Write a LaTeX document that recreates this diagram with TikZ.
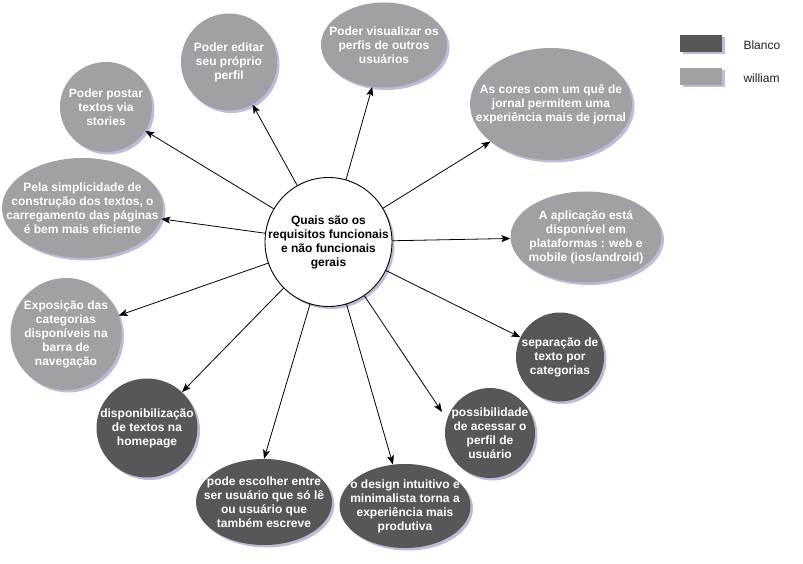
\documentclass[tikz,border=0pt]{standalone}
\usepackage{fontspec}
\setmainfont{Liberation Sans}
\usetikzlibrary{shapes.geometric,shadows,arrows.meta}

\definecolor{lightnode}{RGB}{161,161,165}
\definecolor{darknode}{RGB}{87,87,89}
\definecolor{shadowc}{RGB}{160,160,200}
\definecolor{labelc}{RGB}{30,30,30}

\tikzset{
  soft shadow/.style={drop shadow={shadow xshift=2.5pt,shadow yshift=-2.5pt,fill=shadowc,opacity=0.7}},
  % negative inner sep: the outline size comes from minimum width/height only
  bubble/.style={ellipse,inner sep=-150pt,align=center,text=white,soft shadow,
    font=\bfseries\fontsize{12}{14}\selectfont},
  lightbubble/.style={bubble,fill=lightnode},
  darkbubble/.style={bubble,fill=darknode},
  hub/.style={ellipse,draw=black,line width=0.9pt,fill=white,minimum width=127pt,minimum height=129pt,
    inner sep=-150pt,align=center,soft shadow,font=\bfseries\fontsize{12}{14}\selectfont},
  keybox/.style={rectangle,minimum width=42pt,minimum height=17pt,inner sep=0pt,soft shadow},
  keytext/.style={anchor=west,text=labelc,font=\fontsize{12}{14}\selectfont},
  link/.style={-{Stealth[length=9pt,width=7pt,inset=2pt]},line width=0.8pt,black}
}

\begin{document}
\begin{tikzpicture}[x=1pt,y=-1pt]
\useasboundingbox (0,0) rectangle (803,564);

% central question
\node[hub] (c) at (328.5,242) {Quais são os\\requisitos funcionais\\e não funcionais\\gerais};

% requirements (light)
\node[lightbubble,minimum width=92pt,minimum height=90pt] (n1) at (106,107) {Poder postar\\textos via\\stories};
\node[lightbubble,minimum width=96pt,minimum height=97pt] (n2) at (229,62) {Poder editar\\seu próprio\\perfil};
\node[lightbubble,minimum width=126pt,minimum height=85pt] (n3) at (384,45) {Poder visualizar os\\perfis de outros\\usuários};
\node[lightbubble,minimum width=162pt,minimum height=112pt] (n4) at (551,104) {As cores com um quê de\\jornal permitem uma\\experiência mais de jornal};
\node[lightbubble,minimum width=151pt,minimum height=91pt] (n6) at (586,237) {A aplicação está\\disponível em\\plataformas : web e\\mobile (ios/android)};
\node[lightbubble,minimum width=111pt,minimum height=112pt] (n12) at (66,334) {Exposição das\\categorias\\disponíveis na\\barra de\\navegação};
\node[lightbubble,minimum width=161pt,minimum height=100pt] (n13) at (82.5,208) {Pela simplicidade de\\construção dos textos, o\\carregamento das páginas\\é bem mais eficiente};

% requirements (dark)
\node[darkbubble,minimum width=88pt,minimum height=89pt] (n7) at (560,357) {separação de\\texto por\\categorias};
\node[darkbubble,minimum width=90pt,minimum height=90pt] (n8) at (490,433) {possibilidade\\de acessar o\\perfil de\\usuário};
\node[darkbubble,minimum width=131pt,minimum height=84pt] (n9) at (405,506) {o design intuitivo e\\minimalista torna a\\experiência mais\\produtiva};
\node[darkbubble,minimum width=136pt,minimum height=86pt] (n10) at (264,502) {pode escolher entre\\ser usuário que só lê\\ou usuário que\\também escreve};
\node[darkbubble,minimum width=101pt,minimum height=99pt] (n11) at (147,428) {disponibilização\\de textos na\\homepage};

% legend
\node[keybox,fill=darknode] (k1) at (701,43.5) {};
\node[keytext] (t1) at (740,45) {Blanco};
\node[keybox,fill=lightnode] (k2) at (701,76.5) {};
\node[keytext] (t2) at (740,78) {william};

% free end of the arrow towards n8
\coordinate (p8) at (442,412);

% connectors
\draw[link] (c) -- (n1);
\draw[link] (c) -- (n2);
\draw[link] (c) -- (n3);
\draw[link] (c) -- (n4);
\draw[link] (c) -- (n6);
\draw[link] (c) -- (n7);
\draw[link] (c) -- (p8);
\draw[link] (c) -- (n9);
\draw[link] (c) -- (n10.north);
\draw[link] (c) -- (n11);
\draw[link] (c) -- (n12);
\draw[link] (c) -- (n13);
\end{tikzpicture}
\end{document}
